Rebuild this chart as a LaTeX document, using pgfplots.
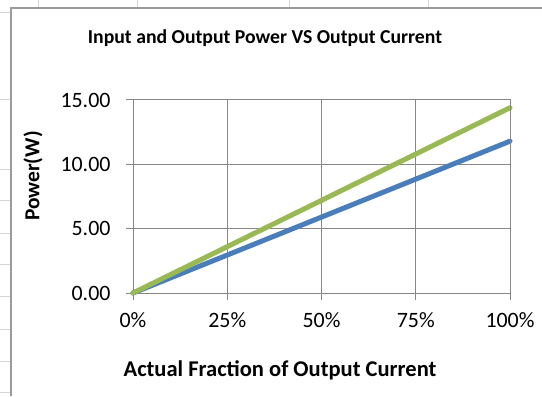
\documentclass[border=0pt]{standalone}
\usepackage{pgfplots}
\pgfplotsset{compat=1.18}
\usepackage{fontspec}
\setmainfont{Carlito}
\definecolor{xblue}{HTML}{4A7EBB}
\definecolor{xgreen}{HTML}{98B954}
\definecolor{gridc}{HTML}{878787}
\definecolor{framec}{HTML}{9A9A9A}
\definecolor{cellc}{HTML}{D4D4D4}
\begin{document}
\begin{tikzpicture}[x=1bp,y=1bp]
\useasboundingbox (0,0) rectangle (542,396);
\fill[white] (0,0) rectangle (542,396);
\foreach \x in {38,137,289,428} \draw[cellc] (\x,396) -- (\x,388);
\foreach \y in {12,99,169,200,233,264,296,329,361,392} \draw[cellc] (0,396-\y) -- (11,396-\y);
\draw[framec, line width=1.5bp] (11,0) -- (11,388) -- (542,388);
\node[font=\fontsize{19.8}{22}\selectfont\bfseries] at (265,358) {Input and Output Power VS Output Current};
\node[font=\fontsize{21.5}{24}\selectfont\bfseries, rotate=90] at (33,220) {Power(W)};
\node[font=\fontsize{22.6}{25}\selectfont\bfseries] at (280,26) {Actual Fraction of Output Current};
\begin{axis}[at={(133bp,103bp)}, anchor=south west, scale only axis,
  width=377bp, height=193bp,
  xmin=0, xmax=1, ymin=0, ymax=15,
  xtick={0,0.25,0.5,0.75,1},
  xticklabels={0\%,25\%,50\%,75\%,100\%},
  ytick={0,5,10,15},
  yticklabel={\pgfmathprintnumber[fixed,fixed zerofill,precision=2]{\tick}},
  /pgf/number format/assume math mode=true,
  tick label style={font=\fontsize{22}{24}\selectfont},
  yticklabel style={anchor=east, xshift=-12bp},
  xticklabel style={anchor=center, yshift=-20bp},
  grid=major,
  major grid style={gridc, line width=1bp},
  axis line style={gridc, line width=1bp},
  tick style={gridc, line width=1bp},
  tick align=outside,
  major tick length=7bp,
  axis x line*=bottom, axis y line*=left,
  clip=false,
]
\addplot[xblue, line width=5bp, line cap=round] coordinates {(0,0) (0.25,2.95) (0.5,5.9) (0.75,8.85) (1,11.8)};
\addplot[xgreen, line width=5bp, line cap=round] coordinates {(0,0) (0.25,3.6) (0.5,7.2) (0.75,10.8) (1,14.4)};
\draw[gridc, line width=1bp] (axis cs:0,15) -- (axis cs:1,15) -- (axis cs:1,0);
\end{axis}
\end{tikzpicture}
\end{document}
